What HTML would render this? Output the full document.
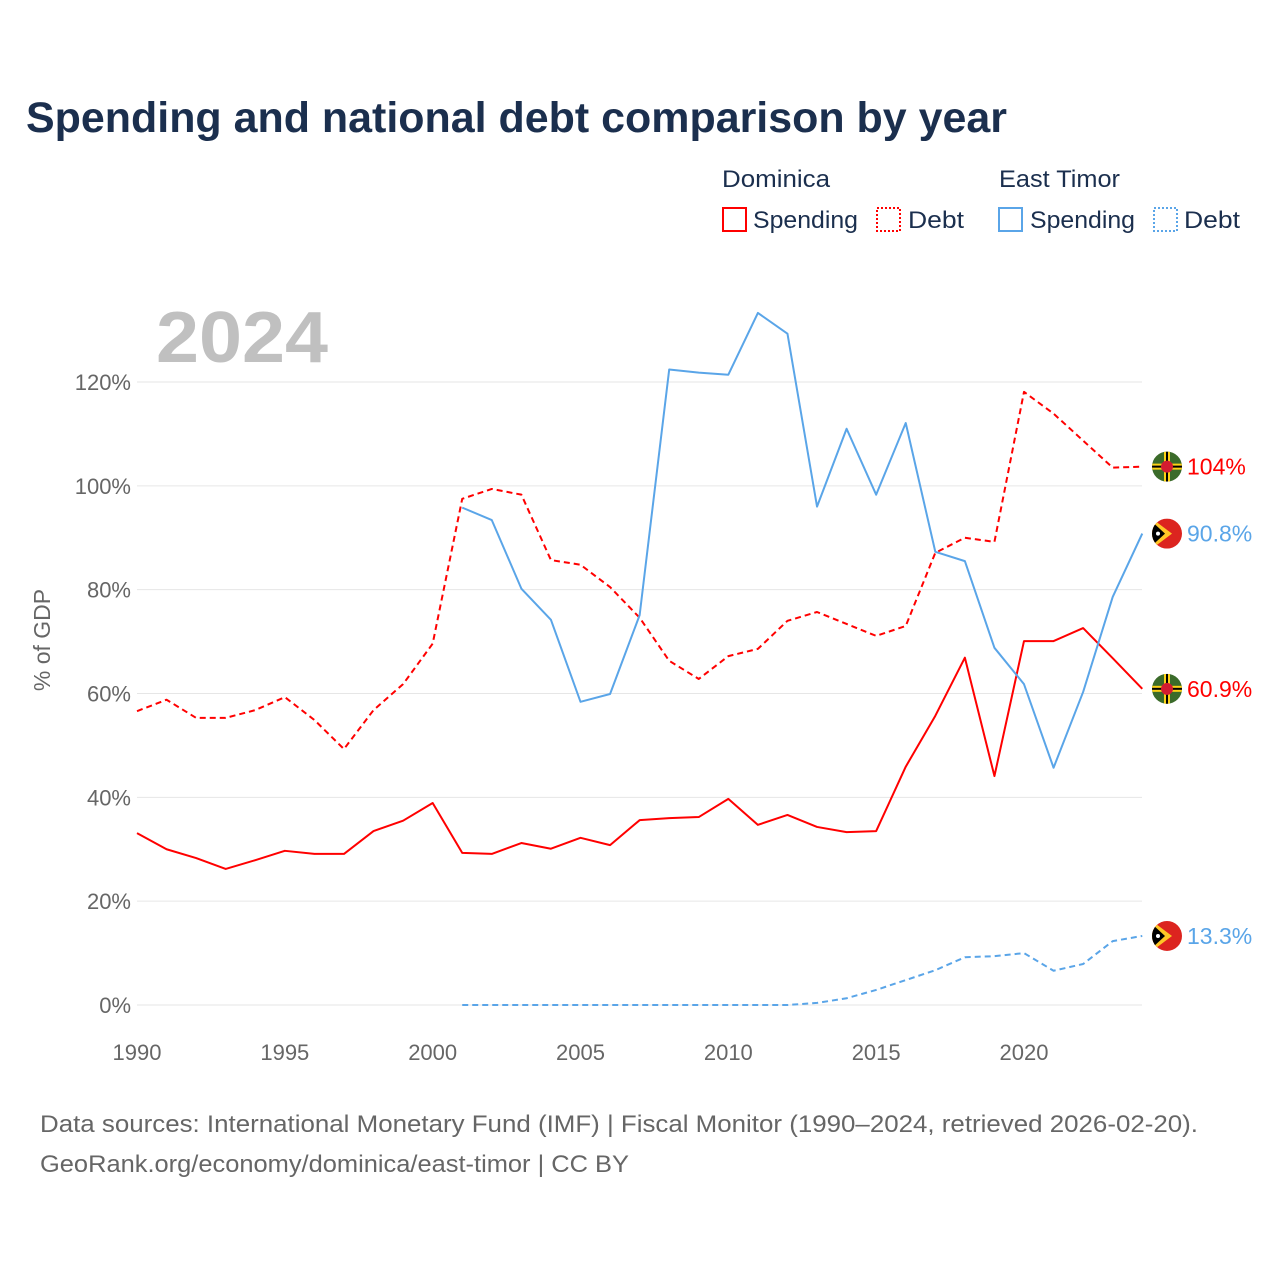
<!DOCTYPE html>
<html><head><meta charset="utf-8">
<style>
html,body{margin:0;padding:0;background:#fff;}
body{width:1280px;height:1280px;position:relative;overflow:hidden;font-family:"Liberation Sans",sans-serif;}
svg text{font-family:"Liberation Sans",sans-serif;}
</style></head>
<body>
<svg id="chart" width="1280" height="1280" xmlns="http://www.w3.org/2000/svg">
<text x="26" y="132" font-size="43" font-weight="bold" fill="#1b2f4e" textLength="981" lengthAdjust="spacingAndGlyphs">Spending and national debt comparison by year</text>
<g font-size="24" fill="#1b2f4e">
<text x="722" y="187" textLength="108" lengthAdjust="spacingAndGlyphs">Dominica</text>
<text x="999" y="187" textLength="121" lengthAdjust="spacingAndGlyphs">East Timor</text>
<g><rect x="723" y="208" width="23" height="23" fill="none" stroke="#ff0000" stroke-width="2"/><text x="753" y="228" textLength="105" lengthAdjust="spacingAndGlyphs">Spending</text></g>
<g><rect x="877" y="208" width="23" height="23" fill="none" stroke="#ff0000" stroke-width="2" stroke-dasharray="2,2"/><text x="908" y="228" textLength="56" lengthAdjust="spacingAndGlyphs">Debt</text></g>
<g><rect x="999" y="208" width="23" height="23" fill="none" stroke="#5aa5e8" stroke-width="2"/><text x="1030" y="228" textLength="105" lengthAdjust="spacingAndGlyphs">Spending</text></g>
<g><rect x="1154" y="208" width="23" height="23" fill="none" stroke="#5aa5e8" stroke-width="2" stroke-dasharray="2,2"/><text x="1184" y="228" textLength="56" lengthAdjust="spacingAndGlyphs">Debt</text></g>
</g>
<text x="156" y="362" font-size="72" font-weight="bold" fill="#c0c0c0" textLength="172" lengthAdjust="spacingAndGlyphs">2024</text>
<text transform="translate(50,640) rotate(-90)" text-anchor="middle" font-size="23" fill="#666">% of GDP</text>
<defs><clipPath id="fc" clipPathUnits="objectBoundingBox"><circle cx="0.5" cy="0.5" r="0.5"/></clipPath></defs>
<g id="grid"></g><g id="series"></g><g id="ends"></g>
<text x="40" y="1132" font-size="24" fill="#666" textLength="1158" lengthAdjust="spacingAndGlyphs">Data sources: International Monetary Fund (IMF) | Fiscal Monitor (1990–2024, retrieved 2026-02-20).</text>
<text x="40" y="1172" font-size="24" fill="#666" textLength="589" lengthAdjust="spacingAndGlyphs">GeoRank.org/economy/dominica/east-timor | CC BY</text>
</svg>
<script>
const yTicks=[0,20,40,60,80,100,120];
const xTicks=[1990,1995,2000,2005,2010,2015,2020];
const domYears=[1990,1991,1992,1993,1994,1995,1996,1997,1998,1999,2000,2001,2002,2003,2004,2005,2006,2007,2008,2009,2010,2011,2012,2013,2014,2015,2016,2017,2018,2019,2020,2021,2022,2023,2024];
const domSpending=[33.1,30.0,28.3,26.2,27.9,29.7,29.1,29.1,33.5,35.5,38.9,29.3,29.1,31.2,30.1,32.2,30.8,35.6,36.0,36.2,39.7,34.7,36.6,34.3,33.3,33.5,45.9,55.7,66.9,44.1,70.1,70.1,72.6,66.8,60.9];
const domDebt=[56.6,58.8,55.3,55.3,56.8,59.3,54.9,49.3,56.8,61.8,69.6,97.5,99.4,98.3,85.7,84.8,80.5,74.6,66.3,62.8,67.2,68.6,74.0,75.7,73.4,71.1,73.0,87.1,90.0,89.2,118.1,113.9,108.7,103.5,103.7];
const tlsYears=[2001,2002,2003,2004,2005,2006,2007,2008,2009,2010,2011,2012,2013,2014,2015,2016,2017,2018,2019,2020,2021,2022,2023,2024];
const tlsSpending=[95.8,93.4,80.2,74.2,58.4,59.9,75.1,122.4,121.8,121.4,133.3,129.3,96.0,111.0,98.3,112.1,87.3,85.5,68.8,61.8,45.7,60.3,78.6,90.8];
const tlsDebt=[0,0,0,0,0,0,0,0,0,0,0,0,0.4,1.3,2.9,4.8,6.7,9.2,9.4,10.0,6.6,7.9,12.3,13.3];
const NS="http://www.w3.org/2000/svg";
const X=y=>137+(y-1990)*(1024-137)/30;
const Y=v=>1005-v*(1005-382)/120;
function mk(t,a,p){const e=document.createElementNS(NS,t);for(const k in a)e.setAttribute(k,a[k]);p.appendChild(e);return e;}
const grid=document.getElementById('grid');
yTicks.forEach(v=>{
 const l=mk('line',{x1:137,x2:1142,y1:Y(v),y2:Y(v),stroke:'#e6e6e6','stroke-width':1},grid);
 
 
 const t=mk('text',{x:131,y:Y(v)+8,'text-anchor':'end','font-size':22,fill:'#666'},grid);
 t.textContent=v+'%';
 
 
});
xTicks.forEach(y=>{
 const t=mk('text',{x:X(y),y:1060,'text-anchor':'middle','font-size':22,fill:'#666'},grid);
 t.textContent=y;
 
 
});
const ser=document.getElementById('series');
function line(years,vals,color,dash,name){
 const p=mk('polyline',{points:years.map((y,i)=>X(y)+','+Y(vals[i])).join(' '),fill:'none',stroke:color,'stroke-width':2,'stroke-dasharray':dash||'none','stroke-linejoin':'round'},ser);
 
 
}
const RED='#ff0000',BLUE='#5aa5e8';
line(domYears,domSpending,RED,null,'dominica-spending-line');
line(domYears,domDebt,RED,'6,4','dominica-debt-line');
line(tlsYears,tlsSpending,BLUE,null,'east-timor-spending-line');
line(tlsYears,tlsDebt,BLUE,'6,4','east-timor-debt-line');
const ends=document.getElementById('ends');
function flagDom(cx,cy,g){
 mk('rect',{x:cx-15,y:cy-15,width:30,height:30,fill:'#3b6b2a'},g);
 mk('rect',{x:cx-15,y:cy-3,width:30,height:6,fill:'#fcd116'},g);
 mk('rect',{x:cx-15,y:cy-1,width:30,height:2,fill:'#000'},g);
 mk('rect',{x:cx-3,y:cy-15,width:6,height:30,fill:'#fcd116'},g);
 mk('rect',{x:cx-1,y:cy-15,width:2,height:30,fill:'#000'},g);
 mk('circle',{cx,cy,r:6,fill:'#d41c30'},g);
}
function flagTls(cx,cy,g){
 mk('rect',{x:cx-15,y:cy-15,width:30,height:30,fill:'#dc241f'},g);
 mk('path',{d:`M${cx-15} ${cy-15} L${cx+5} ${cy} L${cx-15} ${cy+15}Z`,fill:'#ffc726'},g);
 mk('path',{d:`M${cx-15} ${cy-12} L${cx-2} ${cy} L${cx-15} ${cy+12}Z`,fill:'#000'},g);
 mk('circle',{cx:cx-9,cy,r:2,fill:'#fff'},g);
}
function endLabel(v,color,flag,txt,name){
 const g=mk('g',{},ends);
 
 
 const fg=mk('g',{'clip-path':'url(#fc)'},g);
 flag(1167,Y(v),fg);
 const t=mk('text',{x:1187,y:Y(v)+8,'font-size':23,fill:color},g);
 t.textContent=txt;
}
endLabel(domDebt[domDebt.length-1],RED,flagDom,'104%','end-label-dominica-debt');
endLabel(tlsSpending[tlsSpending.length-1],BLUE,flagTls,'90.8%','end-label-east-timor-spending');
endLabel(domSpending[domSpending.length-1],RED,flagDom,'60.9%','end-label-dominica-spending');
endLabel(tlsDebt[tlsDebt.length-1],BLUE,flagTls,'13.3%','end-label-east-timor-debt');
</script>
</body></html>
